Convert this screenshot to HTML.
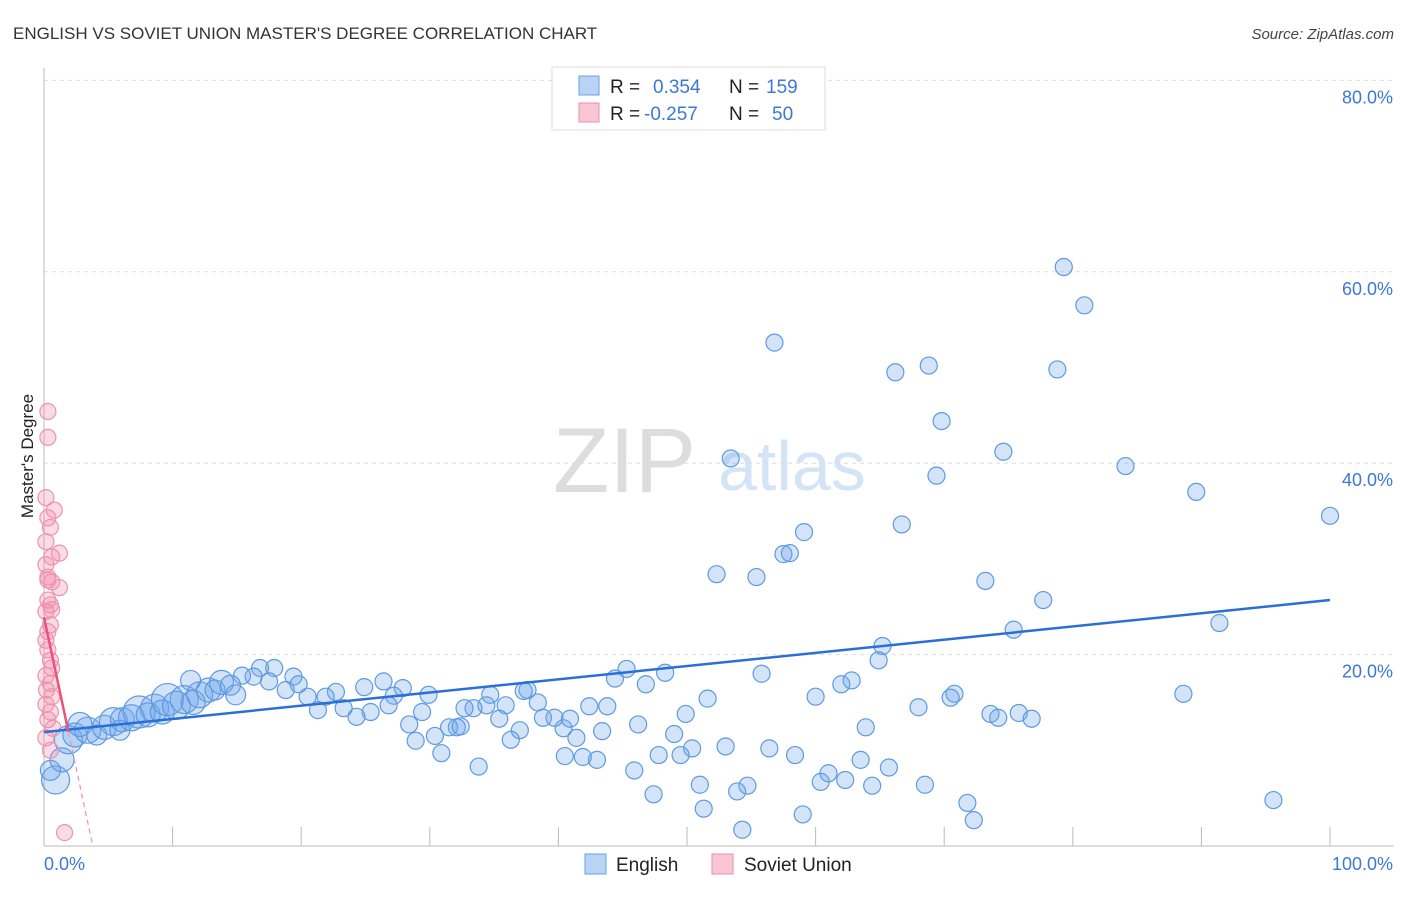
<!DOCTYPE html>
<html><head><meta charset="utf-8"><style>
body{margin:0;background:#fff;font-family:"Liberation Sans",sans-serif}
svg text{font-family:"Liberation Sans",sans-serif}
</style></head><body>
<svg id="chart" width="1406" height="892" viewBox="0 0 1406 892">
<text x="13" y="39" font-size="17" fill="#333">ENGLISH VS SOVIET UNION MASTER'S DEGREE CORRELATION CHART</text>
<text x="1394" y="39" font-size="15" fill="#444" text-anchor="end" font-style="italic">Source: ZipAtlas.com</text>
<text x="553" y="492" font-size="92" fill="#ddd" font-family="Liberation Serif,serif">ZIP</text>
<text x="718" y="490" font-size="70" fill="#d4e4f7">atlas</text>
<g id="grid"></g>
<g id="axes"></g>
<g id="pts"></g>
<g id="lines"></g>
<text transform="translate(33,456) rotate(-90)" font-size="17" fill="#222" text-anchor="middle">Master's Degree</text>
<g>
<rect x="552" y="67" width="273" height="63" fill="#fff" stroke="#ddd"/>
<rect x="579" y="76" width="20" height="19" fill="#b8d3f5" stroke="#6a9fe0"/>
<rect x="579" y="103" width="20" height="19" fill="#f9c6d4" stroke="#ec8eaa"/>
<text x="610" y="93" font-size="19" fill="#222">R =</text>
<text x="653" y="93" font-size="19" fill="#3b78d8">0.354</text>
<text x="729" y="93" font-size="19" fill="#222">N =</text>
<text x="766" y="93" font-size="19" fill="#3b78d8">159</text>
<text x="610" y="120" font-size="19" fill="#222">R =</text>
<text x="644" y="120" font-size="19" fill="#3b78d8">-0.257</text>
<text x="729" y="120" font-size="19" fill="#222">N =</text>
<text x="772" y="120" font-size="19" fill="#3b78d8">50</text>
</g>
<g>
<rect x="585" y="854" width="21" height="20" fill="#b8d3f5" stroke="#6a9fe0"/>
<text x="616" y="871" font-size="19" fill="#222">English</text>
<rect x="712" y="854" width="21" height="20" fill="#f9c6d4" stroke="#ec8eaa"/>
<text x="744" y="871" font-size="19" fill="#222">Soviet Union</text>
</g>
</svg>
<script>
const yTicks=[20,40,60,80];
const xTickLabels=["0.0%","100.0%"];
const englishX=[79.3,80.9,56.8,66.2,68.8,78.8,69.8,53.4,74.6,84.1,69.4,89.6,100,59.1,66.7,57.5,58.0,52.3,55.4,73.2,77.7,91.4,75.4,65.2,64.9,45.3,48.3,55.8,44.4,46.8,62.8,62.0,60.0,70.8,70.5,88.6,51.6,68.0,73.6,74.2,75.8,76.8,49.9,63.9,46.2,49.0,50.4,53.0,56.4,58.4,47.8,49.5,63.5,65.7,61.0,45.9,60.4,62.3,64.4,68.5,51.0,54.7,53.9,47.4,71.8,95.6,51.3,59.0,72.3,54.3,
42.4,43.8,40.4,41.4,43.4,40.5,41.9,43.0,38.8,39.7,40.9,37.6,37.3,38.4,34.7,34.4,33.4,32.7,35.9,35.4,37.0,36.3,32.1,31.5,32.4,30.4,28.9,30.9,33.8,28.4,29.4,29.9,26.4,27.9,27.2,26.8,24.9,25.4,24.3,23.3,22.7,21.9,20.5,21.3,19.4,19.8,18.8,17.9,16.8,16.3,15.4,17.5,
0.9,0.5,1.4,1.9,2.4,3.4,4.1,4.7,5.4,6.1,6.8,7.4,8.1,8.6,9.2,9.6,10.3,10.9,11.6,12.1,12.8,13.3,13.8,14.5,14.9,11.4,5.9,2.8];
const englishY=[60.5,56.5,52.6,49.5,50.2,49.8,44.4,40.5,41.2,39.7,38.7,37.0,34.5,32.8,33.6,30.5,30.6,28.4,28.1,27.7,25.7,23.3,22.6,20.9,19.4,18.5,18.1,18.0,17.5,16.9,17.3,16.9,15.6,15.9,15.5,15.9,15.4,14.5,13.8,13.4,13.9,13.3,13.8,12.4,12.7,11.7,10.2,10.4,10.2,9.5,9.5,9.5,9.0,8.2,7.6,7.9,6.7,6.9,6.3,6.4,6.4,6.3,5.7,5.4,4.5,4.8,3.9,3.3,2.7,1.7,
14.6,14.6,12.3,11.3,12.0,9.4,9.3,9.0,13.4,13.4,13.3,16.3,16.2,15.0,15.8,14.7,14.4,14.4,14.7,13.3,12.1,11.1,12.4,12.4,12.5,11.5,11.0,9.7,8.3,12.7,14.0,15.8,17.2,16.5,15.7,14.7,16.6,14.0,13.5,14.4,16.1,15.6,15.6,14.2,17.7,16.9,16.3,18.6,18.6,17.7,17.8,17.2,
6.9,7.9,9.0,11.1,11.6,12.1,11.6,12.4,13.0,13.2,13.4,14.0,13.7,14.4,14.0,15.3,14.7,15.3,15.0,15.8,16.3,16.3,17.1,16.8,15.8,17.3,12.1,12.7];
const englishBig=[14,10,12,14,12,13,10,12,14,12,13,16,12,14,12,16,14,14,12,13,12,10,12,10,10,10,10,12];
const sovietX=[0.3,0.3,0.15,0.8,0.3,0.5,0.15,1.2,0.6,0.15,0.3,0.6,1.2,0.3,0.5,0.15,0.5,0.3,0.15,0.3,0.5,0.6,0.15,0.5,0.2,0.6,0.15,0.5,0.3,0.7,0.15,0.5,1.6,0.3,0.6];
const sovietY=[45.4,42.7,36.4,35.1,34.3,33.3,31.8,30.6,30.2,29.4,28.1,27.6,27.0,25.7,25.2,24.5,23.1,22.4,21.5,20.5,19.4,18.6,17.8,17.0,16.3,15.6,14.8,14.0,13.2,12.3,11.3,10.0,1.4,27.8,24.7];
const englishTrend=[11.9,25.7];
const sovietTrend=[23.9,-6.3];
const NS="http://www.w3.org/2000/svg";
const X0=44,X1=1330,Y0=846,YS=9.57;
function sx(v){return X0+(X1-X0)*v/100;}
function sy(v){return Y0-v*YS;}
function mk(t,a,p){const e=document.createElementNS(NS,t);for(const k in a)e.setAttribute(k,a[k]);p.appendChild(e);return e;}
const grid=document.getElementById('grid'),axes=document.getElementById('axes'),pts=document.getElementById('pts'),lines=document.getElementById('lines');
yTicks.forEach(t=>{
 const l=mk('line',{x1:X0,x2:1394,y1:sy(t),y2:sy(t),stroke:'#ddd','stroke-dasharray':'4,4'},grid);
 
 
 const tx=mk('text',{x:1393,y:sy(t)+23,'font-size':18,fill:'#3b78d8','text-anchor':'end'},grid);
 tx.textContent=t.toFixed(1)+'%';
 
 
});
const ya=mk('line',{x1:X0,x2:X0,y1:68,y2:Y0,stroke:'#bbb'},axes);


const xa=mk('line',{x1:X0,x2:1394,y1:Y0,y2:Y0,stroke:'#bbb'},axes);


for(let i=1;i<=10;i++){const t=mk('line',{x1:sx(i*10),x2:sx(i*10),y1:Y0-19,y2:Y0,stroke:'#bbb'},axes);
 
 }
const xl0=mk('text',{x:44,y:870,'font-size':18,fill:'#3b78d8'},axes);xl0.textContent=xTickLabels[0];


const xl1=mk('text',{x:1393,y:870,'font-size':18,fill:'#3b78d8','text-anchor':'end'},axes);xl1.textContent=xTickLabels[1];


const nb=englishX.length-englishBig.length;
englishX.forEach((x,i)=>{
 const r=i>=nb?englishBig[i-nb]:8.5;
 const c=mk('circle',{cx:sx(x),cy:sy(englishY[i]),r:r,fill:'rgba(110,165,235,0.3)',stroke:'#5e9ae0','stroke-width':1.2},pts);
 
 
});
sovietX.forEach((x,i)=>{
 const c=mk('circle',{cx:sx(x),cy:sy(sovietY[i]),r:8,fill:'rgba(242,140,170,0.3)',stroke:'#ee93ae','stroke-width':1.2},pts);
 
 
});
const el=mk('line',{x1:sx(0),y1:sy(englishTrend[0]),x2:sx(100),y2:sy(englishTrend[1]),stroke:'#2a6fd6','stroke-width':2.5},lines);


const sf=x=>sovietTrend[0]+sovietTrend[1]*x;
const s1=mk('line',{x1:sx(0),y1:sy(sf(0)),x2:sx(1.9),y2:sy(sf(1.9)),stroke:'#e8527c','stroke-width':2.5},lines);


const s2=mk('line',{x1:sx(1.9),y1:sy(sf(1.9)),x2:sx(3.8),y2:sy(sf(3.8)),stroke:'#ee93ae','stroke-width':1.2,'stroke-dasharray':'5,4'},lines);


</script>
</body></html>
